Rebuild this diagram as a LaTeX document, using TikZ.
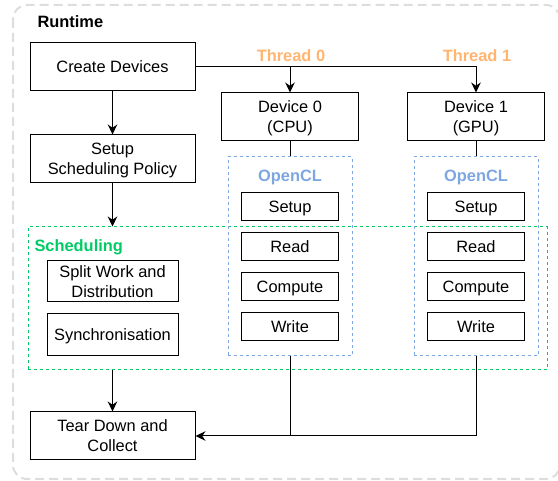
\documentclass[tikz,border=0pt]{standalone}
\usepackage{fontspec}
\setmainfont{Liberation Sans}
\usepackage{tikz}
\usetikzlibrary{arrows.meta}
\definecolor{threadorange}{HTML}{FFB570}
\definecolor{oclblue}{HTML}{7EA6E0}
\definecolor{schedgreen}{HTML}{00CC66}
\definecolor{framegray}{HTML}{DDDDDD}

\begin{document}
\begin{tikzpicture}[x=1pt,y=-1pt,
	font=\fontsize{16.4}{20}\selectfont,
	box/.style={draw, line width=1pt, align=center, inner sep=0pt, text depth=-1.5pt},
	task/.style={box, minimum width=97pt, minimum height=28pt},
	frame/.style={draw, dash pattern=on 3pt off 3pt, line width=1pt, inner sep=0pt},
	arr/.style={-{Stealth[length=10pt,width=9.5pt]}, line width=1pt}]
	\useasboundingbox (0,0) rectangle (558,481);
	\draw[framegray, line width=2pt, dash pattern=on 9pt off 5pt, rounded corners=14pt] (13,5) rectangle (560,479);
	\node[anchor=west, font=\fontsize{16.4}{20}\selectfont\bfseries] (runtime) at (34,22) {Runtime};

	\node[box, minimum width=165pt, minimum height=48pt] (create) at (112.5,67) {Create Devices};
	\node[box, minimum width=165pt, minimum height=48pt] (setup) at (112.5,159) {Setup\\Scheduling Policy};
	\node[frame, schedgreen, minimum width=519pt, minimum height=143pt] (sched) at (287.5,298.5) {};
	\node[anchor=west, schedgreen, font=\fontsize{16.4}{20}\selectfont\bfseries] (schedlabel) at (31,247) {Scheduling};
	\node[box, minimum width=131pt, minimum height=41pt] (split) at (112.5,281.5) {Split Work and\\Distribution};
	\node[box, minimum width=131pt, minimum height=42pt] (sync) at (112.5,335) {Synchronisation};
	\node[box, minimum width=165pt, minimum height=48pt] (teardown) at (112.5,436) {Tear Down and\\Collect};

	\foreach \i/\x/\kind in {0/290/CPU, 1/476/GPU}{
		\node[threadorange, font=\fontsize{16.4}{20}\selectfont\bfseries] (thread\i) at (\x+1,56) {Thread \i};
		\node[box, minimum width=137pt, minimum height=48pt] (dev\i) at (\x,117) {Device \i\\(\kind)};
		\node[frame, oclblue, minimum width=124pt, minimum height=199pt] (ocl\i) at (\x,256.5) {};
		\node[oclblue, font=\fontsize{16.4}{20}\selectfont\bfseries] (ocllabel\i) at (\x,177) {OpenCL};
		\node[task] (setup\i) at (\x,206.5) {Setup};
		\node[task] (read\i) at (\x,247) {Read};
		\node[task] (compute\i) at (\x,287) {Compute};
		\node[task] (write\i) at (\x,326.5) {Write};
		\draw[line width=1pt] (dev\i) -- (ocl\i);
	}

	\draw[arr] (create) -- (setup);
	\draw[arr] (setup) -- (setup |- sched.north);
	\draw[arr] (create.east) -| (dev1);
	\draw[arr] (create.east -| dev0) -- (dev0);
	\draw[arr] (teardown |- sched.south) -- (teardown);
	\draw[arr] (ocl1.south) |- (teardown.east);
	\draw[line width=1pt] (ocl0.south) -- (ocl0.south |- teardown.east);
\end{tikzpicture}
\end{document}
